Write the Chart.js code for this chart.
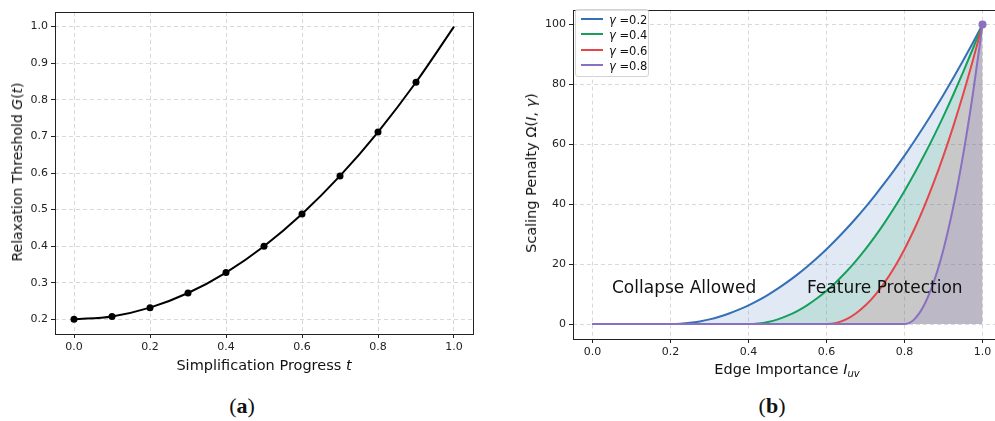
<!DOCTYPE html>
<html>
<head>
<meta charset="utf-8">
<script src="https://cdn.jsdelivr.net/npm/chart.js@4.4.1/dist/chart.umd.min.js"></script>
<style>
    body { margin: 0; width: 995px; height: 421px; overflow: hidden; position: relative; background: #fff; font-family: "DejaVu Sans", sans-serif; color: #111; }
    canvas { position: absolute; top: 0; }
    #chart-a { left: 0; }
    #chart-b { left: 505px; }
    .label { position: absolute; white-space: nowrap; font-size: 14px; color: #111; }
    .ylabel { transform: translate(-50%, -50%) rotate(-90deg); }
    .xlabel { transform: translate(-50%, -50%); }
    .caption { position: absolute; transform: translate(-50%, -50%); font-family: "Liberation Serif", "DejaVu Serif", serif; font-size: 22px; }
    .caption b { font-weight: bold; }
    i { font-style: italic; }
    sub { font-size: 10px; vertical-align: -3px; }
    #legend { position: absolute; left: 575px; top: 9px; width: 72px; padding: 3px 0 2px 0; border: 1px solid #d4d4d4; border-radius: 3px; background: rgba(255,255,255,0.85); font-size: 11.5px; }
    #legend div { height: 15.3px; line-height: 15px; }
    #legend span.swatch { display: inline-block; width: 22px; height: 2px; margin: 0 6px 3px 5px; vertical-align: middle; }
</style>
</head>
<body>
<canvas id="chart-a" width="490" height="360"></canvas>
<canvas id="chart-b" width="510" height="360"></canvas>

<div class="label xlabel" style="left:264px; top:365px; font-size:14.5px;">Simplification Progress <i>t</i></div>
<div class="label ylabel" style="left:17px; top:172px;">Relaxation Threshold <i>G</i>(<i>t</i>)</div>
<div class="label xlabel" style="left:787px; top:370px; font-size:14.5px;">Edge Importance <i>I</i><sub><i>uv</i></sub></div>
<div class="label ylabel" style="left:531px; top:173px; font-size:14.5px;">Scaling Penalty Ω(<i>I</i>, <i>γ</i>)</div>
<div class="caption" style="left:242px; top:406px;">(<b>a</b>)</div>
<div class="caption" style="left:772px; top:406px;">(<b>b</b>)</div>
<div id="legend"></div>

<script>
// (a) relaxation threshold
const progress = [0.0, 0.1, 0.2, 0.3, 0.4, 0.5, 0.6, 0.7, 0.8, 0.9, 1.0];
const threshold = [0.200, 0.208, 0.232, 0.272, 0.328, 0.400, 0.488, 0.592, 0.712, 0.848, 1.000];

// (b) scaling penalty per gamma
const importance = [0, 0.025, 0.05, 0.075, 0.1, 0.125, 0.15, 0.175, 0.2, 0.225, 0.25, 0.275, 0.3, 0.325,
    0.35, 0.375, 0.4, 0.425, 0.45, 0.475, 0.5, 0.525, 0.55, 0.575, 0.6, 0.625, 0.65, 0.675, 0.7, 0.725,
    0.75, 0.775, 0.8, 0.825, 0.85, 0.875, 0.9, 0.925, 0.95, 0.975, 1.0];
const gammaLabels = ['0.2', '0.4', '0.6', '0.8'];
const penalty02 = [0, 0, 0, 0, 0, 0, 0, 0, 0, 0.1, 0.39, 0.88, 1.56, 2.44, 3.52, 4.79, 6.25, 7.91, 9.77,
    11.82, 14.06, 16.5, 19.14, 21.97, 25, 28.22, 31.64, 35.25, 39.06, 43.07, 47.27, 51.66, 56.25, 61.04,
    66.02, 71.19, 76.56, 82.13, 87.89, 93.85, 100];
const penalty04 = [0, 0, 0, 0, 0, 0, 0, 0, 0, 0, 0, 0, 0, 0, 0, 0, 0, 0.17, 0.69, 1.56, 2.78, 4.34, 6.25,
    8.51, 11.11, 14.06, 17.36, 21.01, 25, 29.34, 34.03, 39.06, 44.44, 50.17, 56.25, 62.67, 69.44, 76.56,
    84.03, 91.84, 100];
const penalty06 = [0, 0, 0, 0, 0, 0, 0, 0, 0, 0, 0, 0, 0, 0, 0, 0, 0, 0, 0, 0, 0, 0, 0, 0, 0, 0.39, 1.56,
    3.52, 6.25, 9.77, 14.06, 19.14, 25, 31.64, 39.06, 47.27, 56.25, 66.02, 76.56, 87.89, 100];
const penalty08 = [0, 0, 0, 0, 0, 0, 0, 0, 0, 0, 0, 0, 0, 0, 0, 0, 0, 0, 0, 0, 0, 0, 0, 0, 0, 0, 0, 0, 0,
    0, 0, 0, 0, 1.56, 6.25, 14.06, 25, 39.06, 56.25, 76.56, 100];
const penaltySeries = [penalty02, penalty04, penalty06, penalty08];
const lineColors = ['#356fb5', '#15a05c', '#e5464b', '#8a70c0'];
const fillColors = ['rgba(53,111,181,0.15)', 'rgba(21,160,92,0.15)', 'rgba(229,70,75,0.15)', 'rgba(138,112,192,0.18)'];

const tickFont = { family: 'DejaVu Sans', size: 11 };

// frame around the plot area, matplotlib style
const framePlugin = {
    id: 'frame',
    afterDraw(chart) {
        const a = chart.chartArea;
        const ctx = chart.ctx;
        ctx.save();
        ctx.strokeStyle = '#222';
        ctx.lineWidth = 1;
        ctx.strokeRect(Math.round(a.left) + 0.5, Math.round(a.top) + 0.5, Math.round(a.right - a.left), Math.round(a.bottom - a.top));
        ctx.restore();
    }
};

function axis(min, max, step, fitKey, fitSize, digits) {
    return {
        type: 'linear',
        min: min,
        max: max,
        afterFit: function (s) { s[fitKey] = fitSize; },
        ticks: {
            stepSize: step,
            includeBounds: false,
            color: '#222',
            font: tickFont,
            padding: 3,
            callback: function (v) { return v.toFixed(digits); }
        },
        grid: {
            color: '#d9d9d9',
            lineWidth: 1,
            borderDash: [4, 3],
            drawTicks: true,
            tickLength: 4,
            tickColor: '#222',
            tickBorderDash: []
        },
        border: { display: false, dash: [4, 3] }
    };
}

// chart (a)
new Chart(document.getElementById('chart-a'), {
    type: 'line',
    data: {
        datasets: [{
            data: progress.map((t, i) => ({ x: t, y: threshold[i] })),
            borderColor: '#000',
            backgroundColor: '#000',
            borderWidth: 2,
            pointRadius: progress.map((t, i) => i < progress.length - 1 ? 3.5 : 0),
            pointBorderWidth: 0,
            cubicInterpolationMode: 'monotone',
            fill: false
        }]
    },
    options: {
        responsive: false,
        animation: false,
        devicePixelRatio: 1,
        layout: { padding: { top: 12, right: 17, left: 0, bottom: 0 } },
        plugins: { legend: { display: false }, tooltip: { enabled: false } },
        scales: {
            x: axis(-0.05, 1.05, 0.2, 'height', 26, 1),
            y: axis(0.16, 1.04, 0.1, 'width', 55, 1)
        }
    },
    plugins: [framePlugin]
});

// region labels in chart (b)
const regionLabels = {
    id: 'regions',
    afterDatasetsDraw(chart) {
        const ctx = chart.ctx;
        const xs = chart.scales.x, ys = chart.scales.y;
        ctx.save();
        ctx.font = '17px "DejaVu Sans"';
        ctx.fillStyle = '#111';
        ctx.textBaseline = 'middle';
        ctx.textAlign = 'left';
        ctx.fillText('Collapse Allowed', xs.getPixelForValue(0.05), ys.getPixelForValue(12));
        ctx.fillText('Feature Protection', xs.getPixelForValue(0.55), ys.getPixelForValue(12));
        ctx.restore();
    }
};

// chart (b)
new Chart(document.getElementById('chart-b'), {
    type: 'line',
    data: {
        datasets: penaltySeries.map((vals, k) => ({
            label: 'γ =' + gammaLabels[k],
            data: importance.map((x, i) => ({ x: x, y: vals[i] })),
            borderColor: lineColors[k],
            backgroundColor: fillColors[k],
            borderWidth: 2,
            pointRadius: k === 3 ? importance.map((x, i) => i === importance.length - 1 ? 4 : 0) : 0,
            pointBackgroundColor: lineColors[k],
            pointBorderWidth: 0,
            cubicInterpolationMode: 'monotone',
            fill: 'origin',
            order: 3 - k
        }))
    },
    options: {
        responsive: false,
        animation: false,
        devicePixelRatio: 1,
        layout: { padding: { top: 7, right: 13, left: 0, bottom: 0 } },
        plugins: { legend: { display: false }, tooltip: { enabled: false } },
        scales: {
            x: axis(-0.05, 1.05, 0.2, 'height', 21, 1),
            y: axis(-5, 105, 20, 'width', 68, 0)
        }
    },
    plugins: [framePlugin, regionLabels]
});

// legend for chart (b)
const legend = document.getElementById('legend');
gammaLabels.forEach(function (g, k) {
    const row = document.createElement('div');
    row.innerHTML = '<span class="swatch" style="background:' + lineColors[k] + '"></span><i>γ</i> =' + g;
    legend.appendChild(row);
});
</script>
</body>
</html>
